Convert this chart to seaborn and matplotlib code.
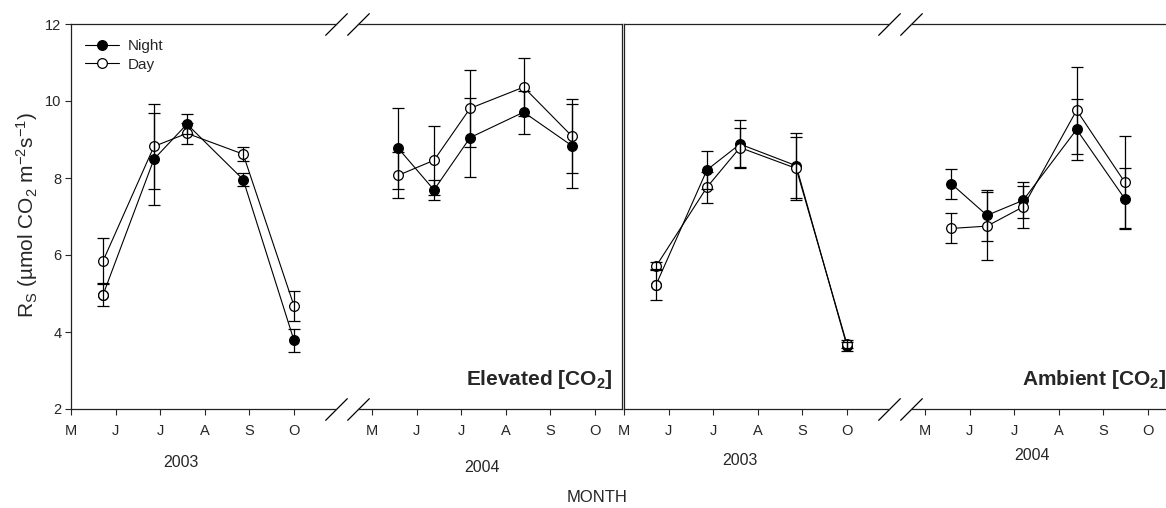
import matplotlib
matplotlib.use("Agg")
import matplotlib.pyplot as plt
from matplotlib.lines import Line2D
import seaborn as sns
import pandas as pd

# ---------------- data ----------------
month_ticks = [5, 6, 7, 8, 9, 10]
month_labels = ["M", "J", "J", "A", "S", "O"]

months_2003 = [5.72, 6.86, 7.60, 8.86, 10.00]
months_2004 = [5.59, 6.39, 7.20, 8.40, 9.48]

elev_night_2003 = [4.97, 8.49, 9.40, 7.96, 3.78]
elev_night_2003_se = [0.30, 1.19, 0.27, 0.17, 0.29]
elev_day_2003 = [5.85, 8.82, 9.16, 8.62, 4.68]
elev_day_2003_se = [0.60, 1.10, 0.28, 0.18, 0.39]
elev_night_2004 = [8.77, 7.69, 9.05, 9.71, 8.84]
elev_night_2004_se = [1.05, 0.26, 1.02, 0.56, 1.09]
elev_day_2004 = [8.07, 8.46, 9.81, 10.36, 9.09]
elev_day_2004_se = [0.60, 0.89, 1.00, 0.75, 0.96]

amb_night_2003 = [5.23, 8.21, 8.88, 8.32, 3.63]
amb_night_2003_se = [0.40, 0.49, 0.63, 0.85, 0.12]
amb_day_2003 = [5.71, 7.76, 8.79, 8.25, 3.68]
amb_day_2003_se = [0.10, 0.40, 0.50, 0.82, 0.10]
amb_night_2004 = [7.85, 7.03, 7.42, 9.26, 7.46]
amb_night_2004_se = [0.39, 0.66, 0.47, 0.80, 0.79]
amb_day_2004 = [6.69, 6.75, 7.25, 9.76, 7.89]
amb_day_2004_se = [0.39, 0.88, 0.55, 1.13, 1.19]

# first Night point of 2003 is drawn with an open symbol in the original
night_open_2003 = [True, False, False, False, False]

y_ticks = [2, 4, 6, 8, 10, 12]

# ---------------- style ----------------
sns.set_style("ticks")
plt.rcParams["font.family"] = ["Liberation Sans", "DejaVu Sans"]
plt.rcParams["mathtext.fontset"] = "custom"
plt.rcParams["mathtext.rm"] = "Liberation Sans"
plt.rcParams["mathtext.it"] = "Liberation Sans:italic"
plt.rcParams["mathtext.bf"] = "Liberation Sans:bold"

W, H = 1166, 508
fig = plt.figure(figsize=(W / 100, H / 100), dpi=100)

PX_MONTH = 44.6
y0_px, y1_px = 409, 24

def add_axes(x0_px, x1_px, xstart):
    ax = fig.add_axes([x0_px / W, (H - y0_px) / H, (x1_px - x0_px) / W, (y0_px - y1_px) / H])
    ax.set_xlim(xstart, xstart + (x1_px - x0_px) / PX_MONTH)
    ax.set_ylim(2, 12)
    return ax

LW = 0.8
MS = 7
CAP = 4.6

def draw_series(ax, x, y, se, filled, open_mask=None):
    df = pd.DataFrame({"month": x, "rs": y})
    fc = "black" if filled else "white"
    sns.lineplot(data=df, x="month", y="rs", ax=ax, color="black", linewidth=LW,
                 marker="o", markersize=MS, markerfacecolor=fc, markeredgecolor="black",
                 markeredgewidth=0.9, errorbar=None, sort=False, zorder=3)
    if open_mask is not None:
        xs = [xi for xi, m in zip(x, open_mask) if m]
        ys = [yi for yi, m in zip(y, open_mask) if m]
        ax.plot(xs, ys, "o", ms=MS, mfc="white", mec="black", mew=0.9, zorder=3.5)
    ax.errorbar(x, y, yerr=se, fmt="none", ecolor="black", elinewidth=0.9,
                capsize=CAP, capthick=0.9, zorder=4)

def style_axis(ax, left=False, right=False, ylabels=False):
    ax.spines["top"].set_visible(True)
    ax.spines["bottom"].set_visible(True)
    ax.spines["left"].set_visible(left)
    ax.spines["right"].set_visible(right)
    for s in ax.spines.values():
        s.set_linewidth(0.9)
        s.set_color("#222222")
    ax.set_xticks(month_ticks)
    ax.set_xticklabels(month_labels)
    ax.tick_params(axis="x", direction="out", length=4, width=0.8, pad=7, labelsize=10.5,
                   top=False, bottom=True)
    ax.set_yticks(y_ticks)
    if ylabels:
        ax.tick_params(axis="y", direction="out", length=4, width=0.8, pad=3, labelsize=10.5,
                       left=True, right=False)
    else:
        ax.tick_params(axis="y", left=False, right=False, labelleft=False)
    ax.set_xlabel("")
    ax.set_ylabel("")

def break_marks(ax, xpos):
    kw = dict(marker=[(-1, -1), (1, 1)], markersize=16, linestyle="none",
              color="black", mec="black", mew=0.9, clip_on=False, transform=ax.transAxes)
    ax.plot([xpos, xpos], [0, 1], **kw)

def year_label(ax, text, xf, yf):
    ax.text(xf, yf, text, transform=ax.transAxes, ha="center", va="center", fontsize=11.5)

OFFSET = 553
panels = [
    dict(dx=0, n03=elev_night_2003, n03e=elev_night_2003_se, d03=elev_day_2003, d03e=elev_day_2003_se,
         n04=elev_night_2004, n04e=elev_night_2004_se, d04=elev_day_2004, d04e=elev_day_2004_se,
         title=r"Elevated [CO$_\mathbf{2}$]", ylabels=True,
         ylab03=(0.415, -0.140), ylab04=(0.47, -0.151)),
    dict(dx=OFFSET, n03=amb_night_2003, n03e=amb_night_2003_se, d03=amb_day_2003, d03e=amb_day_2003_se,
         n04=amb_night_2004, n04e=amb_night_2004_se, d04=amb_day_2004, d04e=amb_day_2004_se,
         title=r"Ambient [CO$_\mathbf{2}$]", ylabels=False,
         ylab03=(0.438, -0.135), ylab04=(0.458, -0.122)),
]

for i, p in enumerate(panels):
    dx = p["dx"]
    ax03 = add_axes(71 + dx, 336 + dx, 5.0)
    ax04 = add_axes(358 + dx, 622 + dx, 5.0 - 14 / PX_MONTH)

    draw_series(ax03, months_2003, p["n03"], p["n03e"], True, open_mask=night_open_2003)
    draw_series(ax03, months_2003, p["d03"], p["d03e"], False)
    draw_series(ax04, months_2004, p["n04"], p["n04e"], True)
    draw_series(ax04, months_2004, p["d04"], p["d04e"], False)

    style_axis(ax03, left=True, right=False, ylabels=p["ylabels"])
    style_axis(ax04, left=False, right=True, ylabels=False)

    break_marks(ax03, 1.0)
    break_marks(ax04, 0.0)

    year_label(ax03, "2003", *p["ylab03"])
    year_label(ax04, "2004", *p["ylab04"])

    ax04.text(1 - 9 / 264, 0.062, p["title"], transform=ax04.transAxes, ha="right",
              va="baseline", fontsize=15, fontweight="bold")

    if i == 0:
        handles = [
            Line2D([], [], color="black", lw=LW, marker="o", ms=MS, mfc="black", mec="black", mew=0.9),
            Line2D([], [], color="black", lw=LW, marker="o", ms=MS, mfc="white", mec="black", mew=0.9),
        ]
        ax03.legend(handles, ["Night", "Day"], loc="upper left", bbox_to_anchor=(0.02, 0.985),
                    frameon=False, fontsize=11, handlelength=2.2, handletextpad=0.6,
                    labelspacing=0.3, borderaxespad=0.2)

fig.text(27 / W, (H - 215) / H, r"R$_{\rm S}$ (µmol CO$_2$ m$^{-2}$s$^{-1}$)", rotation=90,
         ha="center", va="center", fontsize=15)
fig.text(597 / W, (H - 497) / H, "MONTH", ha="center", va="center", fontsize=12)

fig.savefig("out.png", dpi=100)
